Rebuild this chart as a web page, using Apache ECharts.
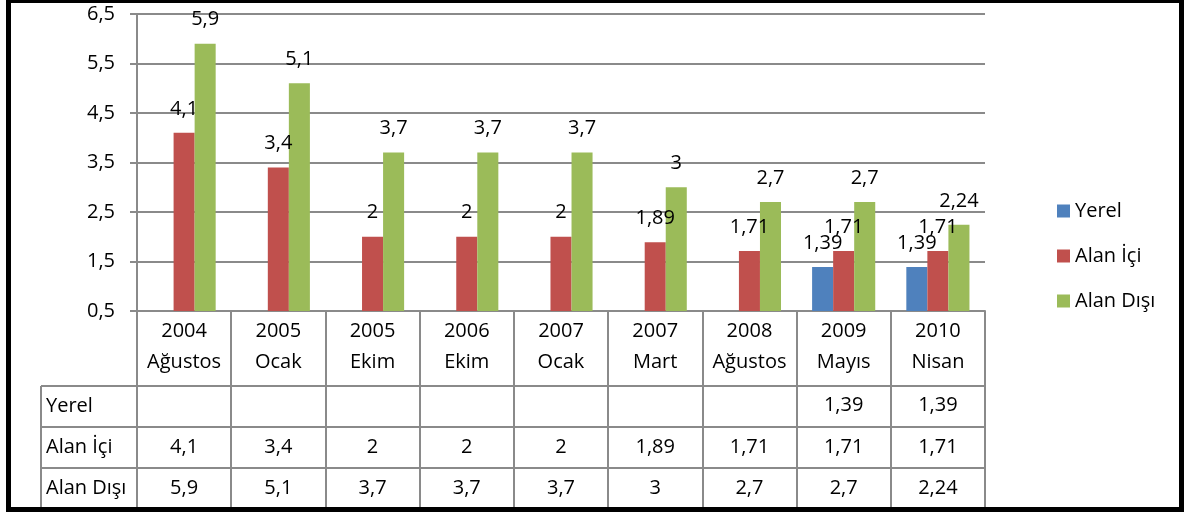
<!DOCTYPE html>
<html>
<head>
<meta charset="utf-8">
<script src="https://cdn.jsdelivr.net/npm/echarts@6/dist/echarts.min.js"></script>
<style>
  * { margin: 0; padding: 0; }
  html, body { background: #fff; }
</style>
</head>
<body>
<div id="main" style="width: 1187px;height: 513px;"></div>
<script>
  // veriler
  var categories = ['2004\nAğustos', '2005\nOcak', '2005\nEkim', '2006\nEkim', '2007\nOcak',
    '2007\nMart', '2008\nAğustos', '2009\nMayıs', '2010\nNisan'];
  var seriesNames = ['Yerel', 'Alan İçi', 'Alan Dışı'];
  var yerel = [null, null, null, null, null, null, null, 1.39, 1.39];
  var alanIci = [4.1, 3.4, 2, 2, 2, 1.89, 1.71, 1.71, 1.71];
  var alanDisi = [5.9, 5.1, 3.7, 3.7, 3.7, 3, 2.7, 2.7, 2.24];
  var yTicks = [0.5, 1.5, 2.5, 3.5, 4.5, 5.5, 6.5];
  var colors = ['#4F81BD', '#C0504D', '#9BBB59'];

  var FONT = 'Open Sans';
  var FS = 20;
  var gridCol = '#8a8a8a';

  function fmt(v) {
    return v == null ? '' : String(v).replace('.', ',');
  }

  var rows = [yerel, alanIci, alanDisi];

  // tablo satirlari icin ek x eksenleri
  var rowOffsets = [84, 126, 167];
  var xAxes = [{
    type: 'category',
    data: categories,
    axisLine: { lineStyle: { color: gridCol, width: 2 } },
    axisTick: { show: true, length: 198, lineStyle: { color: gridCol, width: 2 } },
    axisLabel: {
      color: '#000', fontFamily: FONT, fontSize: FS, lineHeight: 31, margin: 5,
      interval: 0
    }
  }];
  rows.forEach(function (r, i) {
    xAxes.push({
      type: 'category',
      position: 'bottom',
      offset: rowOffsets[i],
      data: r.map(fmt),
      axisLine: { show: false },
      axisTick: { show: false },
      axisLabel: {
        color: '#000', fontFamily: FONT, fontSize: FS, lineHeight: 20, margin: 0,
        interval: 0
      }
    });
  });

  var series = rows.map(function (r, i) {
    return {
      name: seriesNames[i],
      type: 'bar',
      xAxisIndex: 0,
      data: r,
      barGap: '0%',
      barCategoryGap: '33%',
      itemStyle: { color: colors[i] },
      label: {
        show: true,
        position: 'top',
        distance: 14,
        color: '#000',
        fontFamily: FONT,
        fontSize: FS,
        lineHeight: 20,
        formatter: function (p) { return fmt(p.value); }
      }
    };
  });

  // tablo cizgileri ve satir basliklari
  var tblLeft = 41, tblRight = 985;
  var lineYs = [386, 427, 468];
  var labelYs = [406, 447, 488];
  var graphics = [];
  lineYs.forEach(function (y) {
    graphics.push({ type: 'line', shape: { x1: tblLeft, y1: y, x2: tblRight, y2: y },
      style: { stroke: gridCol, lineWidth: 2 } });
  });
  graphics.push({ type: 'line', shape: { x1: tblLeft, y1: 386, x2: tblLeft, y2: 510 },
    style: { stroke: gridCol, lineWidth: 2 } });
  seriesNames.forEach(function (n, i) {
    graphics.push({ type: 'text', x: 46, y: labelYs[i],
      style: { text: n, fill: '#000', font: FS + 'px "' + FONT + '"', verticalAlign: 'middle' } });
  });
  // dis cerceve
  graphics.push({ type: 'rect', shape: { x: 8.5, y: 0.5, width: 1173, height: 509 },
    style: { fill: null, stroke: '#000', lineWidth: 5 }, z: 100 });

  var mycharts = echarts.init(document.getElementById('main'));
  var option = {
    animation: false,
    grid: { left: 137, right: 202, top: 14, bottom: 202, containLabel: false },
    legend: {
      orient: 'vertical',
      left: 1052,
      top: 196,
      icon: 'rect',
      itemWidth: 13,
      itemHeight: 13,
      itemGap: 25,
      data: seriesNames,
      textStyle: { color: '#000', fontFamily: FONT, fontSize: FS, lineHeight: 20 }
    },
    xAxis: xAxes,
    yAxis: {
      type: 'value',
      min: yTicks[0],
      max: yTicks[yTicks.length - 1],
      interval: 1,
      axisLine: { show: true, lineStyle: { color: gridCol, width: 2 } },
      axisTick: { show: true, length: 7, lineStyle: { color: gridCol, width: 2 } },
      splitLine: { lineStyle: { color: gridCol, width: 2 } },
      axisLabel: {
        color: '#000', fontFamily: FONT, fontSize: FS, margin: 22,
        formatter: function (v) { return v.toFixed(1).replace('.', ','); }
      }
    },
    series: series,
    graphic: graphics
  };
  mycharts.setOption(option);
</script>
</body>
</html>
